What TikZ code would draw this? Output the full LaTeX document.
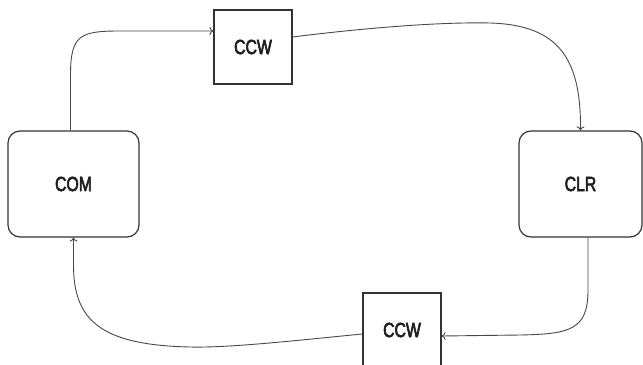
\documentclass[tikz,border=0pt]{standalone}
\usepackage{fontspec}
\setmainfont[FakeStretch=0.77,FakeBold=3]{Liberation Sans}
\usetikzlibrary{arrows.meta}
\definecolor{ink}{HTML}{333333}
\definecolor{wire}{HTML}{484848}
\begin{document}
\begin{tikzpicture}[x=1bp,y=-1bp,
  rbox/.style={draw=ink,line width=1.2bp,rounded corners=12bp,minimum width=131bp,minimum height=106bp,inner sep=0pt,font=\fontsize{20.5bp}{24bp}\selectfont,text=black!88},
  sbox/.style={draw=ink,line width=1.2bp,minimum width=78bp,minimum height=74bp,inner sep=0pt,font=\fontsize{20.5bp}{24bp}\selectfont,text=black!88},
  conn/.style={draw=wire,line width=0.9bp,-{To[length=4bp,width=8bp]}}]
\useasboundingbox (0,0) rectangle (643,364);
\node[rbox] (COM) at (73.5,184) {COM};
\node[sbox] (CCWt) at (253,47) {CCW};
\node[rbox,minimum width=123bp] (CLR) at (580.5,184) {CLR};
\node[sbox] (CCWb) at (402,330) {CCW};
\draw[conn] ([xshift=-3bp]COM.north) -- (70.5,75) .. controls (70.5,35) and (80,31) .. (120,31) -- ([yshift=16bp]CCWt.west);
\draw[conn] ([yshift=10bp]CCWt.east) .. controls (380,26) and (450,22) .. (490,23) .. controls (560,25) and (581,60) .. (CLR.north);
\draw[conn] ([xshift=7.5bp]CLR.south) -- (588,290) .. controls (588,330) and (570,334) .. (520,335) -- ([yshift=-6bp]CCWb.east);
\draw[conn] ([yshift=-4bp]CCWb.west) .. controls (300,340) and (230,348) .. (190,347) .. controls (100,345) and (73.5,320) .. (73.5,265) -- (COM.south);
\end{tikzpicture}
\end{document}
